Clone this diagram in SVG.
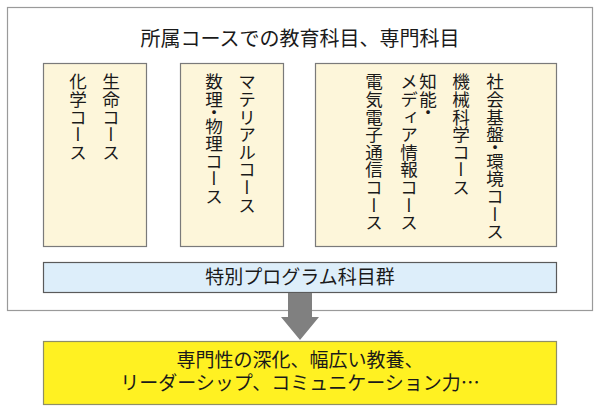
<svg xmlns="http://www.w3.org/2000/svg" width="600" height="415" viewBox="0 0 600 415">
<style>
text{font-family:"Noto Sans CJK JP","Noto Sans CJK SC",sans-serif;fill:#1a1a1a}
.course{fill:#fdf6da;stroke:#7a7a7a;stroke-width:1.2}
.v{writing-mode:vertical-rl;font-size:17.6px}
.dot{font-feature-settings:"vhal" 1}
</style>
<rect width="600" height="415" fill="#ffffff"/>
<g id="container">
<rect x="7.5" y="7.5" width="585" height="303" fill="#ffffff" stroke="#9a9a9a" stroke-width="1.2"/>
<text x="300" y="46" font-size="20" text-anchor="middle">所属コースでの教育科目、専門科目</text>
</g>
<g id="course-life-chem">
<rect class="course" x="43.5" y="63.5" width="103" height="183"/>
<text class="v" x="111" y="73">生命コース</text>
<text class="v" x="78" y="73">化学コース</text>
</g>
<g id="course-material">
<rect class="course" x="180.5" y="63.5" width="103" height="183"/>
<text class="v" x="247" y="73">マテリアルコース</text>
<text class="v" x="214" y="73">数理<tspan class="dot">・</tspan>物理コース</text>
</g>
<g id="course-eng">
<rect class="course" x="315.5" y="63.5" width="241" height="183"/>
<text class="v" x="495" y="73">社会基盤<tspan class="dot">・</tspan>環境コース</text>
<text class="v" x="461" y="73">機械科学コース</text>
<text class="v" x="428" y="73">知能<tspan class="dot">・</tspan></text>
<text class="v" x="409" y="73">メディア情報コース</text>
<text class="v" x="374" y="73">電気電子通信コース</text>
</g>
<g id="special-program">
<rect x="43.5" y="262.5" width="513" height="30" fill="#ddeefa" stroke="#5a5a5a" stroke-width="1.2"/>
<text x="300" y="284" font-size="19" text-anchor="middle">特別プログラム科目群</text>
</g>
<g id="connectors">
<polygon points="288,293 312,293 312,317 319,317 300,340 281,317 288,317" fill="#808080"/>
</g>
<g id="outcome">
<rect x="43.5" y="341.5" width="513" height="63" fill="#fff122" stroke="#8f8f66" stroke-width="1.2"/>
<text font-size="19" text-anchor="middle"><tspan x="300" y="367">専門性の深化、幅広い教養、</tspan><tspan x="300" y="390">リーダーシップ、コミュニケーション力…</tspan></text>
</g>
</svg>
